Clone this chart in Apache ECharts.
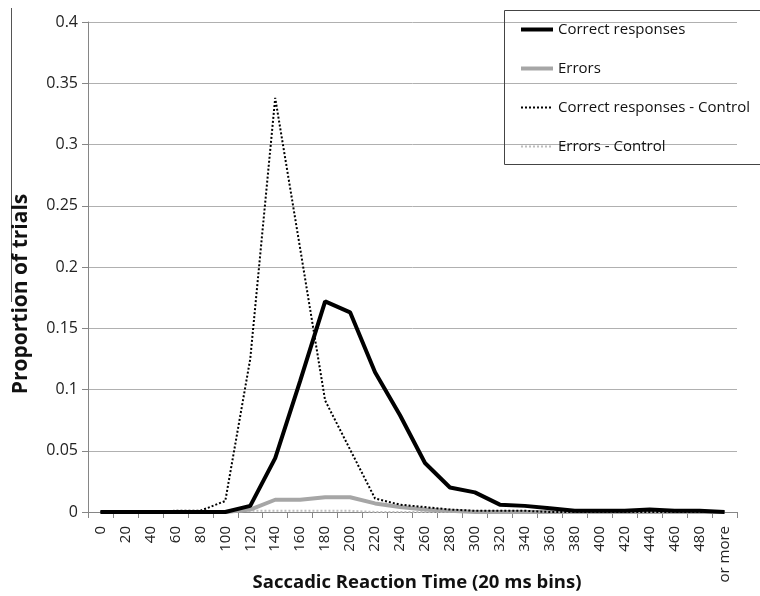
<!DOCTYPE html>
<html>
<head>
<meta charset="utf-8">
<script src="https://cdn.jsdelivr.net/npm/echarts@6/dist/echarts.min.js"></script>
<style>html,body{margin:0;padding:0;background:#fff;}#c{width:760px;height:596px;}</style>
</head>
<body>
<div id="c"></div>
<script>
var categories = ['0','20','40','60','80','100','120','140','160','180','200','220','240','260','280','300','320','340','360','380','400','420','440','460','480','or more'];
var correctResponses = [0,0,0,0,0,0,0.005,0.044,0.107,0.172,0.163,0.114,0.079,0.040,0.020,0.016,0.006,0.005,0.003,0.001,0.001,0.001,0.002,0.001,0.001,0];
var errors = [0,0,0,0,0,0,0.002,0.010,0.010,0.012,0.012,0.007,0.004,0.002,0.001,0,0,0,0,0,0,0,0,0,0,0];
var correctControl = [0,0,0,0.001,0.001,0.009,0.125,0.338,0.215,0.091,0.051,0.011,0.006,0.004,0.002,0.001,0.001,0.001,0,0,0,0,0,0,0,0];
var errorsControl = [0,0,0,0,0,0,0.001,0.001,0.001,0.001,0.001,0,0,0,0,0,0,0,0,0,0,0,0,0,0,0];
var yTicks = {min:0, max:0.4, interval:0.05};
var xTitle = 'Saccadic Reaction Time (20 ms bins)';
var yTitle = 'Proportion of trials';

var FONT = '"Open Sans", "Noto Sans", sans-serif';
var chart = echarts.init(document.getElementById('c'));
chart.setOption({
  animation:false,
  backgroundColor:'#fff',
  textStyle:{fontFamily:FONT},
  grid:{left:88, right:23, top:22, bottom:84, containLabel:false, outerBoundsMode:'none'},
  legend:{
    orient:'vertical', left:519, top:22, padding:0, itemWidth:32, itemHeight:14, itemGap:24,
    textStyle:{fontFamily:FONT, fontSize:15, color:'#111'},
    itemStyle:{opacity:0},
    data:[
      {name:'Correct responses', lineStyle:{width:4}},
      {name:'Errors', lineStyle:{width:4}},
      {name:'Correct responses - Control', lineStyle:{width:2}},
      {name:'Errors - Control', lineStyle:{width:2}}
    ]
  },
  graphic:[
    {type:'rect', shape:{x:504.5, y:10.5, width:262, height:154}, style:{fill:'none', stroke:'#444', lineWidth:1}, z:1},
    {type:'line', shape:{x1:11.5, y1:8, x2:11.5, y2:302}, style:{stroke:'#555', lineWidth:1}},
    {type:'text', x:21, y:294, rotation:Math.PI/2,
     style:{text:yTitle, font:'bold 21px "Open Sans", "Noto Sans", sans-serif', fill:'#111', textAlign:'center', textVerticalAlign:'middle'}},
    {type:'text', x:417, y:583,
     style:{text:xTitle, font:'bold 18.5px "Open Sans", "Noto Sans", sans-serif', fill:'#111', textAlign:'center', textVerticalAlign:'middle'}}
  ],
  xAxis:{
    type:'category', data:categories, boundaryGap:true,
    axisLine:{lineStyle:{color:'#868686', width:1}},
    axisTick:{show:true, length:6, alignWithLabel:false, lineStyle:{color:'#868686'}},
    axisLabel:{rotate:90, fontSize:15, color:'#222', margin:14, interval:0, fontFamily:FONT},
    splitLine:{show:false}
  },
  yAxis:{
    type:'value', min:yTicks.min, max:yTicks.max, interval:yTicks.interval,
    axisLine:{show:true, lineStyle:{color:'#868686', width:1}},
    axisTick:{show:true, length:6, lineStyle:{color:'#868686'}},
    axisLabel:{fontSize:16, color:'#222', margin:10, fontFamily:FONT,
      formatter:function(v){return String(Math.round(v*100)/100);}},
    splitLine:{lineStyle:{color:'#b0b0b0', width:1}}
  },
  series:[
    {name:'Errors - Control', type:'line', data:errorsControl, symbol:'none', z:2,
     lineStyle:{color:'#bdbdbd', width:2, type:[2,2]}, itemStyle:{color:'#bdbdbd'}},
    {name:'Errors', type:'line', data:errors, symbol:'none', z:3,
     lineStyle:{color:'#a6a6a6', width:4}, itemStyle:{color:'#a6a6a6'}},
    {name:'Correct responses - Control', type:'line', data:correctControl, symbol:'none', z:4,
     lineStyle:{color:'#000', width:2, type:[2,2]}, itemStyle:{color:'#000'}},
    {name:'Correct responses', type:'line', data:correctResponses, symbol:'none', z:5,
     lineStyle:{color:'#000', width:4}, itemStyle:{color:'#000'}}
  ]
});
</script>
</body>
</html>
